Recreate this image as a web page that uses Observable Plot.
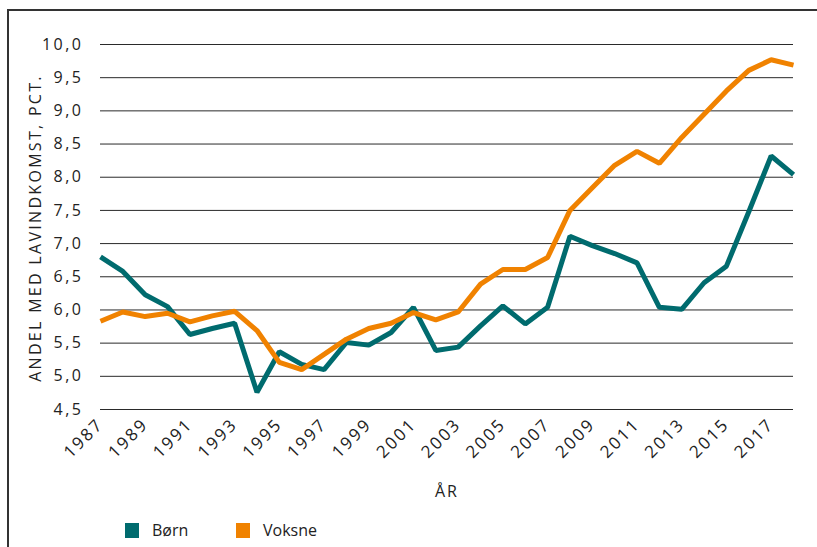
<!DOCTYPE html>
<html><head><meta charset="utf-8">
<script src="https://cdn.jsdelivr.net/npm/d3@7"></script>
<script src="https://cdn.jsdelivr.net/npm/@observablehq/plot@0.6"></script>
<style>
html,body{margin:0;padding:0;background:#fff;}
body{width:817px;height:547px;position:relative;overflow:hidden;font-family:"Open Sans",sans-serif;color:#222;}
#frame{position:absolute;left:7px;top:9px;width:830px;height:560px;border-left:2px solid #333;border-top:2px solid #333;}
#chart{position:absolute;left:0;top:0;}
#ylabel{position:absolute;left:35px;top:228px;transform:translate(-50%,-50%) rotate(-90deg);white-space:nowrap;font-size:16px;letter-spacing:2.3px;}
#xlabel{position:absolute;left:447px;top:491px;transform:translate(-50%,-50%);font-size:16px;letter-spacing:2px;}
#legend{position:absolute;left:125px;top:519px;display:flex;align-items:center;font-size:16px;}
.sw{width:14px;height:15px;display:inline-block;margin-right:13px;}
.item{display:flex;align-items:center;}
</style></head>
<body>
<div id="frame"></div>
<div id="chart"></div>
<div id="ylabel">ANDEL MED LAVINDKOMST, PCT.</div>
<div id="xlabel">ÅR</div>
<div id="legend"></div>
<script>
const years = [1987,1988,1989,1990,1991,1992,1993,1994,1995,1996,1997,1998,1999,2000,2001,2002,2003,2004,2005,2006,2007,2008,2009,2010,2011,2012,2013,2014,2015,2016,2017,2018];
const born = [6.80,6.58,6.23,6.05,5.63,5.72,5.80,4.76,5.37,5.18,5.10,5.51,5.47,5.66,6.04,5.39,5.44,5.76,6.06,5.79,6.04,7.11,6.97,6.85,6.71,6.04,6.01,6.41,6.66,7.48,8.32,8.04];
const voksne = [5.83,5.97,5.90,5.95,5.82,5.91,5.98,5.69,5.21,5.10,5.33,5.56,5.72,5.80,5.96,5.85,5.97,6.39,6.61,6.61,6.79,7.50,7.84,8.18,8.39,8.21,8.60,8.95,9.30,9.61,9.77,9.69];
const seriesNames = ["Børn","Voksne"];
const seriesColors = ["#006b6e","#f08200"];
const xTicks = [1987,1989,1991,1993,1995,1997,1999,2001,2003,2005,2007,2009,2011,2013,2015,2017];
const yTicks = [4.5,5.0,5.5,6.0,6.5,7.0,7.5,8.0,8.5,9.0,9.5,10.0];

const rowsB = years.map((y,i)=>({year:y, value:born[i]}));
const rowsV = years.map((y,i)=>({year:y, value:voksne[i]}));

const chart = Plot.plot({
  width: 817,
  height: 500,
  marginLeft: 100,
  marginRight: 24,
  marginTop: 44,
  marginBottom: 91,
  style: {fontFamily: '"Open Sans", sans-serif', fontSize: "16px", color: "#222", background: "transparent"},
  x: {domain: [1987, 2018]},
  y: {domain: [4.5, 10]},
  marks: [
    Plot.ruleY(yTicks, {stroke: "#2a2a2a", strokeWidth: 1}),
    Plot.axisY({ticks: yTicks, tickSize: 0, tickPadding: 17, label: null, fontSize: 16,
      tickFormat: d => d.toFixed(1).replace(".", ","), fill: "#222"}),
    Plot.axisX({ticks: xTicks, tickSize: 0, tickPadding: 12, tickRotate: -45, label: null, fontSize: 17,
      tickFormat: d => String(d), fill: "#222"}),
    Plot.line(rowsB, {x: "year", y: "value", stroke: seriesColors[0], strokeWidth: 5, strokeLinejoin: "miter", strokeLinecap: "butt"}),
    Plot.line(rowsV, {x: "year", y: "value", stroke: seriesColors[1], strokeWidth: 5, strokeLinejoin: "miter", strokeLinecap: "butt"})
  ]
});
chart.querySelectorAll('g[aria-label="y-axis tick label"] text').forEach(t=>t.setAttribute("letter-spacing","2.5"));
chart.querySelectorAll('g[aria-label="x-axis tick label"]').forEach(g=>{g.setAttribute("font-size","17"); g.setAttribute("letter-spacing","2.2");});
document.getElementById("chart").appendChild(chart);

const leg = document.getElementById("legend");
seriesNames.forEach((n,i)=>{
  const it = document.createElement("div");
  it.className = "item";
  it.style.width = i === 0 ? "111px" : "auto";
  it.innerHTML = `<span class="sw" style="background:${seriesColors[i]}"></span><span>${n}</span>`;
  leg.appendChild(it);
});
</script>
</body></html>
